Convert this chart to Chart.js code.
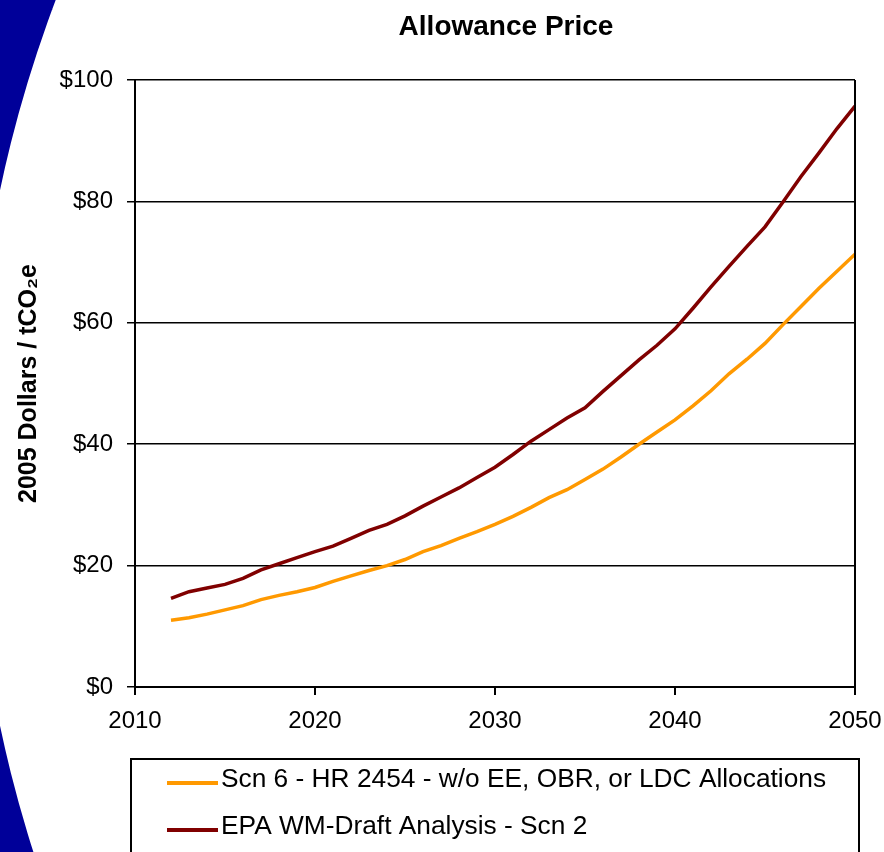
<!DOCTYPE html>
<html>
<head>
<meta charset="utf-8">
<title>Allowance Price</title>
<script src="https://cdn.jsdelivr.net/npm/chart.js@4/dist/chart.umd.min.js"></script>
<style>
  html, body { margin: 0; padding: 0; background: #fff; }
  canvas { display: block; }
</style>
</head>
<body>
<canvas id="chartPrice" width="884" height="852"></canvas>
<script>
const years = [2012, 2013, 2014, 2015, 2016, 2017, 2018, 2019, 2020, 2021,
  2022, 2023, 2024, 2025, 2026, 2027, 2028, 2029, 2030, 2031,
  2032, 2033, 2034, 2035, 2036, 2037, 2038, 2039, 2040, 2041,
  2042, 2043, 2044, 2045, 2046, 2047, 2048, 2049, 2050];

// Scn 6 - HR 2454
const scn6_values = [11.0, 11.4, 12.0, 12.7, 13.4, 14.4, 15.1, 15.7, 16.4, 17.4,
  18.3, 19.2, 20.0, 21.0, 22.3, 23.3, 24.5, 25.6, 26.8, 28.1,
  29.6, 31.2, 32.5, 34.2, 35.9, 37.9, 40.0, 42.0, 44.0, 46.3,
  48.8, 51.6, 54.0, 56.6, 59.7, 62.7, 65.7, 68.5, 71.3];

// EPA WM-Draft Analysis - Scn 2
const epa_values = [14.6, 15.7, 16.3, 16.9, 17.9, 19.3, 20.3, 21.3, 22.3, 23.2,
  24.5, 25.8, 26.8, 28.2, 29.8, 31.3, 32.8, 34.5, 36.2, 38.3,
  40.5, 42.4, 44.3, 46.0, 48.7, 51.3, 53.9, 56.3, 59.0, 62.4,
  65.9, 69.3, 72.6, 75.8, 79.9, 84.1, 88.0, 92.0, 95.7];

const series_labels = [
  "Scn 6 - HR 2454 - w/o EE, OBR, or LDC Allocations",
  "EPA WM-Draft Analysis - Scn 2",
];
const series_colors = ["#FF9900", "#800000"];

const chart_title = "Allowance Price";
const y_title = "2005 Dollars / tCO\u2082e";

const FONT = "Arial, 'Liberation Sans', sans-serif";
Chart.defaults.font.family = FONT;
Chart.defaults.color = "#000";

const toPoints = (values) => values.map((v, i) => ({ x: years[i], y: v }));

// blue swoosh on the left + white page
const backgroundPlugin = {
  id: "background",
  beforeDraw: (chart) => {
    const ctx = chart.ctx;
    const w = chart.width;
    const h = chart.height;
    ctx.save();
    ctx.fillStyle = "#fff";
    ctx.fillRect(0, 0, w, h);
    ctx.beginPath();
    ctx.rect(0, 0, w, h);
    ctx.arc(1267, 458, 1295, 0, Math.PI * 2);
    ctx.fillStyle = "#000099";
    ctx.fill("evenodd");
    ctx.restore();
  },
};

// title, right border of plot and boxed legend
const decorPlugin = {
  id: "decor",
  afterDraw: (chart) => {
    const ctx = chart.ctx;
    const area = chart.chartArea;
    ctx.save();

    // right border
    ctx.strokeStyle = "#000";
    ctx.lineWidth = 2;
    ctx.beginPath();
    ctx.moveTo(area.right, area.top);
    ctx.lineTo(area.right, area.bottom);
    ctx.stroke();

    // title
    ctx.fillStyle = "#000";
    ctx.font = "bold 28px " + FONT;
    ctx.textAlign = "center";
    ctx.textBaseline = "middle";
    ctx.fillText(chart_title, 506, 27);

    // legend box
    ctx.lineWidth = 2;
    ctx.strokeRect(131, 759, 728, 120);
    ctx.font = "26.3px " + FONT;
    ctx.textAlign = "left";
    chart.data.datasets.forEach((ds, i) => {
      const y = 783 + i * 47;
      ctx.strokeStyle = ds.borderColor;
      ctx.lineWidth = 4;
      ctx.beginPath();
      ctx.moveTo(167, y);
      ctx.lineTo(218, y);
      ctx.stroke();
      ctx.fillStyle = "#000";
      ctx.fillText(ds.label, 221, y - 3);
    });
    ctx.restore();
  },
};

const config = {
  type: "line",
  data: {
    datasets: [
      {
        label: series_labels[0],
        data: toPoints(scn6_values),
        borderColor: series_colors[0],
        backgroundColor: series_colors[0],
        borderWidth: 3.5,
        pointRadius: 0,
        tension: 0,
      },
      {
        label: series_labels[1],
        data: toPoints(epa_values),
        borderColor: series_colors[1],
        backgroundColor: series_colors[1],
        borderWidth: 3.5,
        pointRadius: 0,
        tension: 0,
      },
    ],
  },
  options: {
    responsive: false,
    animation: false,
    layout: {
      padding: { top: 80, right: 29, left: 0, bottom: 0 },
    },
    plugins: {
      legend: { display: false },
      title: { display: false },
      tooltip: { enabled: false },
    },
    scales: {
      x: {
        type: "linear",
        min: 2010,
        max: 2050,
        afterFit: (scale) => {
          scale.height = 165;
          scale.paddingLeft = 0;
          scale.paddingRight = 0;
        },
        ticks: {
          stepSize: 10,
          padding: 12,
          font: { size: 24 },
          maxRotation: 0,
          callback: (v) => String(v),
        },
        grid: {
          drawOnChartArea: false,
          drawTicks: true,
          tickLength: 8,
          color: "#000",
          lineWidth: 2,
        },
        border: { display: true, color: "#000", width: 2 },
      },
      y: {
        min: 0,
        max: 100,
        afterFit: (scale) => {
          scale.width = 135;
        },
        ticks: {
          stepSize: 20,
          padding: 14,
          font: { size: 24 },
          callback: (v) => "$" + v,
        },
        grid: {
          color: "#000",
          lineWidth: 1.5,
          tickLength: 8,
        },
        border: { display: true, color: "#000", width: 2 },
        title: {
          display: true,
          text: y_title,
          font: { size: 25, weight: "bold" },
          padding: { top: 14, bottom: 0 },
        },
      },
    },
  },
  plugins: [backgroundPlugin, decorPlugin],
};

const new_chart = new Chart(document.getElementById("chartPrice").getContext("2d"), config);
</script>
</body>
</html>
